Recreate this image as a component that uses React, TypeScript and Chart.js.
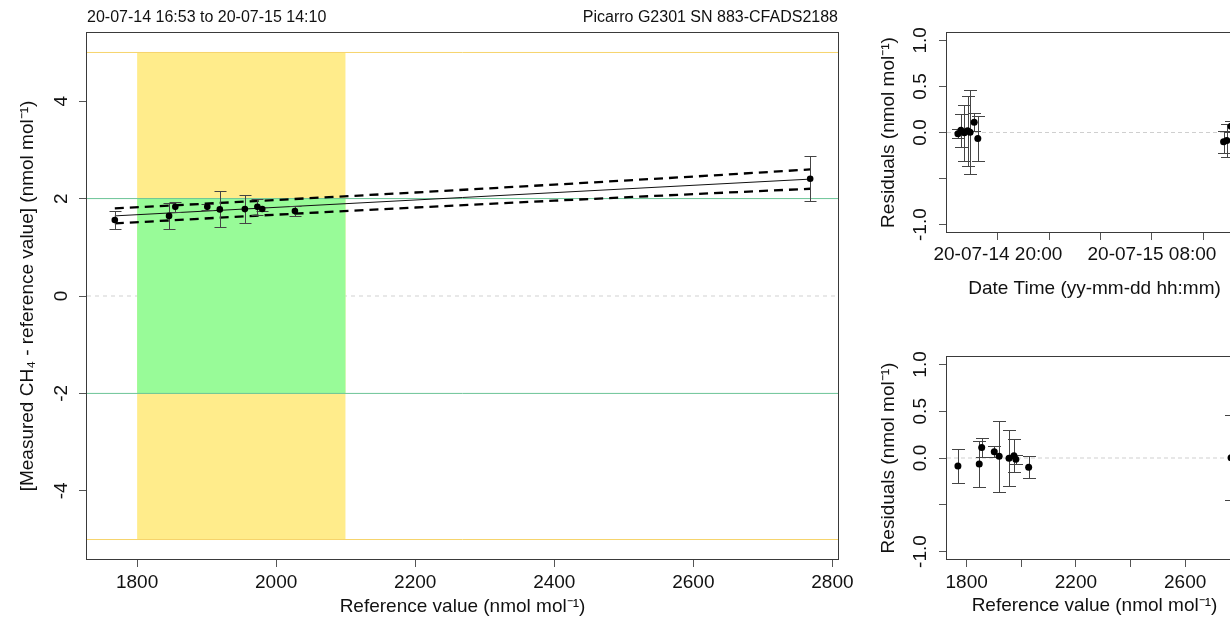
import React, { useEffect, useRef } from 'react';
import { Chart, registerables } from 'chart.js';

Chart.register(...registerables);

const FONT = "'Liberation Sans', Arial, Helvetica, sans-serif";
Chart.defaults.font.family = FONT;
Chart.defaults.color = '#111';

// ---------------- data ----------------
const referenceValues = [1768, 1846, 1855, 1901, 1919, 1955, 1973, 1980, 2027, 2768];
const measuredMinusRef = [1.56, 1.645, 1.83, 1.83, 1.778, 1.784, 1.83, 1.786, 1.743, 2.406];
const diffUncertainty = [0.18, 0.26, 0.1, 0.06, 0.37, 0.29, 0.17, 0.05, 0.11, 0.46];
const residuals = [-0.086, -0.065, 0.111, 0.068, 0.018, -0.004, 0.025, -0.014, -0.1, 0.004];
const residualUncertainty = [0.177, 0.245, 0.1, 0.06, 0.378, 0.3, 0.177, 0.05, 0.118, 0.455];
// hours since 2020-07-14 00:00
const measurementHours = [37.833, 18.433, 18.15, 38.167, 17.633, 17.383, 17.117, 16.883, 37.583, 17.833];

const fitX = [1768, 2768];
const fitY = [1.645, 2.4];
const bandX = [1768, 1970, 2200, 2400, 2600, 2768];
const bandUpper = [1.8, 1.948, 2.125, 2.287, 2.452, 2.598];
const bandLower = [1.49, 1.648, 1.817, 1.957, 2.092, 2.202];

const refTicks = [1800, 2000, 2200, 2400, 2600, 2800];
const refTickLabels = ['1800', '2000', '2200', '2400', '2600', '2800'];
const refTickLabelsSmall = ['1800', '', '2200', '', '2600', ''];
const diffTicks = [-4, -2, 0, 2, 4];
const diffTickLabels = ['-4', '-2', '0', '2', '4'];
const residTicks = [-1, -0.5, 0, 0.5, 1];
const residTickLabels = ['-1.0', '', '0.0', '0.5', '1.0'];
const timeTicks = [20, 24, 28, 32, 36];
const timeTickLabels = ['20-07-14 20:00', '', '', '20-07-15 08:00', ''];

const refRange = [1728, 2808];
const diffRange = [-5.4, 5.4];
const residRange = [-1.08, 1.08];
const timeRange = [16.032, 39.018];

const outerTolerance = [-5, 5];
const innerTolerance = [-2, 2];
const targetRange = [1800, 2100];

const headerLeft = '20-07-14 16:53 to 20-07-15 14:10';
const headerRight = 'Picarro G2301 SN 883-CFADS2188';
const mainXTitle = 'Reference value (nmol mol\u207B\u00B9)';
const mainYTitle = '[Measured CH\u2084 - reference value] (nmol mol\u207B\u00B9)';
const residYTitle = 'Residuals (nmol mol\u207B\u00B9)';
const timeXTitle = 'Date Time (yy-mm-dd hh:mm)';

// ---------------- helpers ----------------
const pts = (xs: number[], ys: number[]) => xs.map((x, i) => ({ x, y: ys[i] }));

type FrameCfg = {
  yTicks: number[];
  yLabels: string[];
  yLabelOffset: number;
  fontSize: number;
  errX: number[];
  errY: number[];
  errU: number[];
  cap: number;
  header?: boolean;
};

function makeFramePlugin(cfg: FrameCfg) {
  return {
    id: 'rframe',
    beforeDatasetDraw(chart: any, args: any) {
      if (args.index !== 0) return;
      const { ctx, chartArea: a, scales } = chart;
      ctx.save();
      ctx.beginPath();
      ctx.rect(a.left, a.top, a.right - a.left, a.bottom - a.top);
      ctx.clip();
      ctx.strokeStyle = '#444';
      ctx.lineWidth = 1;
      cfg.errX.forEach((xv, i) => {
        const px = Math.round(scales.x.getPixelForValue(xv)) + 0.5;
        const y1 = Math.round(scales.y.getPixelForValue(cfg.errY[i] - cfg.errU[i])) + 0.5;
        const y2 = Math.round(scales.y.getPixelForValue(cfg.errY[i] + cfg.errU[i])) + 0.5;
        ctx.beginPath();
        ctx.moveTo(px, y1);
        ctx.lineTo(px, y2);
        ctx.moveTo(px - cfg.cap, y1);
        ctx.lineTo(px + cfg.cap, y1);
        ctx.moveTo(px - cfg.cap, y2);
        ctx.lineTo(px + cfg.cap, y2);
        ctx.stroke();
      });
      ctx.restore();
    },
    afterDatasetsDraw(chart: any) {
      const { ctx, chartArea: a, scales } = chart;
      ctx.save();
      ctx.strokeStyle = '#3a3a3a';
      ctx.lineWidth = 1;
      const L = Math.round(a.left), T = Math.round(a.top), R = Math.round(a.right), B = Math.round(a.bottom);
      ctx.strokeRect(L - 0.5, T - 0.5, R - L + 1, B - T + 1);
      ctx.fillStyle = '#111';
      ctx.font = `${cfg.fontSize}px ${FONT}`;
      ctx.textAlign = 'center';
      ctx.textBaseline = 'middle';
      cfg.yTicks.forEach((v, i) => {
        const lbl = cfg.yLabels[i];
        if (!lbl) return;
        const py = scales.y.getPixelForValue(v);
        ctx.save();
        ctx.translate(a.left - cfg.yLabelOffset, py);
        ctx.rotate(-Math.PI / 2);
        ctx.fillText(lbl, 0, 0);
        ctx.restore();
      });
      if (cfg.header) {
        ctx.font = `16px ${FONT}`;
        ctx.textBaseline = 'middle';
        ctx.textAlign = 'left';
        ctx.fillText(headerLeft, L, 18);
        ctx.textAlign = 'right';
        ctx.fillText(headerRight, R, 18);
      }
      ctx.restore();
    },
  };
}

type AxisCfg = {
  xRange: number[];
  xTicks: number[];
  xLabels: string[];
  xTitle: string;
  xTitlePad: number;
  xLabelPad: number;
  xHeight: number;
  yRange: number[];
  yTicks: number[];
  yTitle: string;
  yTitlePad: number;
  yWidth: number;
  fontSize: number;
  padTop: number;
  padRight: number;
};

function makeOptions(c: AxisCfg): any {
  return {
    animation: false,
    responsive: false,
    events: [],
    layout: { padding: { top: c.padTop, right: c.padRight, left: 0, bottom: 0 } },
    plugins: { legend: { display: false }, tooltip: { enabled: false } },
    scales: {
      x: {
        type: 'linear',
        position: 'bottom',
        min: c.xRange[0],
        max: c.xRange[1],
        afterBuildTicks: (s: any) => {
          s.ticks = c.xTicks.map((v) => ({ value: v }));
        },
        afterFit: (s: any) => {
          s.height = c.xHeight;
        },
        ticks: {
          autoSkip: false,
          maxRotation: 0,
          minRotation: 0,
          padding: c.xLabelPad,
          color: '#111',
          font: { size: c.fontSize, family: FONT },
          callback: (_v: any, i: number) => c.xLabels[i],
        },
        grid: { display: true, drawOnChartArea: false, drawTicks: true, tickLength: 8, color: '#555', lineWidth: 1 },
        border: { display: false },
        title: {
          display: true,
          text: c.xTitle,
          color: '#111',
          font: { size: c.fontSize, family: FONT },
          padding: { top: 0, bottom: c.xTitlePad },
        },
      },
      y: {
        type: 'linear',
        position: 'left',
        min: c.yRange[0],
        max: c.yRange[1],
        afterBuildTicks: (s: any) => {
          s.ticks = c.yTicks.map((v) => ({ value: v }));
        },
        afterFit: (s: any) => {
          s.width = c.yWidth;
        },
        ticks: { display: false },
        grid: { display: true, drawOnChartArea: false, drawTicks: true, tickLength: 8, color: '#555', lineWidth: 1 },
        border: { display: false },
        title: {
          display: true,
          text: c.yTitle,
          color: '#111',
          font: { size: c.fontSize, family: FONT },
          padding: { top: c.yTitlePad, bottom: 0 },
        },
      },
    },
  };
}

const flatLine = (xs: number[], y: number, color: string, order: number, dash: number[] = [], width = 1) => ({
  type: 'line',
  data: pts(xs, [y, y]),
  borderColor: color,
  borderWidth: width,
  borderDash: dash,
  pointRadius: 0,
  showLine: true,
  fill: false,
  order,
});

function mainConfig(): any {
  const GREEN_LINE = '#6cc497';
  const GOLD_LINE = '#f6d46c';
  return {
    type: 'scatter',
    data: {
      datasets: [
        {
          type: 'scatter',
          data: pts(referenceValues, measuredMinusRef),
          pointRadius: 3.3,
          backgroundColor: '#000',
          borderColor: '#000',
          borderWidth: 0,
          order: 0,
        },
        { type: 'line', data: pts(fitX, fitY), borderColor: '#111', borderWidth: 1, pointRadius: 0, showLine: true, fill: false, order: 1 },
        { type: 'line', data: pts(bandX, bandUpper), borderColor: '#000', borderWidth: 2.3, borderDash: [9, 6], pointRadius: 0, showLine: true, fill: false, order: 1 },
        { type: 'line', data: pts(bandX, bandLower), borderColor: '#000', borderWidth: 2.3, borderDash: [9, 6], pointRadius: 0, showLine: true, fill: false, order: 1 },
        flatLine(refRange, innerTolerance[1], GREEN_LINE, 2),
        flatLine(refRange, innerTolerance[0], GREEN_LINE, 2),
        flatLine(refRange, outerTolerance[1], GOLD_LINE, 2),
        flatLine(refRange, outerTolerance[0], GOLD_LINE, 2),
        {
          type: 'line',
          data: pts(targetRange, [innerTolerance[1], innerTolerance[1]]),
          fill: { value: innerTolerance[0] },
          backgroundColor: '#98FB98',
          borderColor: 'rgba(0,0,0,0)',
          borderWidth: 0,
          pointRadius: 0,
          showLine: true,
          order: 3,
        },
        {
          type: 'line',
          data: pts(targetRange, [outerTolerance[1], outerTolerance[1]]),
          fill: { value: outerTolerance[0] },
          backgroundColor: '#FFEC8B',
          borderColor: 'rgba(0,0,0,0)',
          borderWidth: 0,
          pointRadius: 0,
          showLine: true,
          order: 4,
        },
        flatLine(refRange, 0, '#d2d2d2', 5, [4, 4]),
      ],
    },
    options: makeOptions({
      xRange: refRange,
      xTicks: refTicks,
      xLabels: refTickLabels,
      xTitle: mainXTitle,
      xTitlePad: 1,
      xLabelPad: 4,
      xHeight: 60,
      yRange: diffRange,
      yTicks: diffTicks,
      yTitle: mainYTitle,
      yTitlePad: 16,
      yWidth: 87,
      fontSize: 19,
      padTop: 33,
      padRight: 42,
    }),
    plugins: [
      makeFramePlugin({
        yTicks: diffTicks,
        yLabels: diffTickLabels,
        yLabelOffset: 25,
        fontSize: 19,
        errX: referenceValues,
        errY: measuredMinusRef,
        errU: diffUncertainty,
        cap: 6,
        header: true,
      }),
    ],
  };
}

function residualConfig(kind: 'time' | 'ref'): any {
  const xs = kind === 'time' ? measurementHours : referenceValues;
  const range = kind === 'time' ? timeRange : refRange;
  return {
    type: 'scatter',
    data: {
      datasets: [
        {
          type: 'scatter',
          data: pts(xs, residuals),
          pointRadius: 3.5,
          backgroundColor: '#000',
          borderColor: '#000',
          borderWidth: 0,
          order: 0,
        },
        flatLine(range, 0, '#cfcfcf', 5, [4, 3]),
      ],
    },
    options: makeOptions({
      xRange: range,
      xTicks: kind === 'time' ? timeTicks : refTicks,
      xLabels: kind === 'time' ? timeTickLabels : refTickLabelsSmall,
      xTitle: kind === 'time' ? timeXTitle : mainXTitle,
      xTitlePad: kind === 'time' ? 10 : 2,
      xLabelPad: kind === 'time' ? 3 : 4,
      xHeight: kind === 'time' ? 78 : 60,
      yRange: residRange,
      yTicks: residTicks,
      yTitle: residYTitle,
      yTitlePad: 27,
      yWidth: 97,
      fontSize: 19,
      padTop: kind === 'time' ? 33 : 37,
      padRight: 8,
    }),
    plugins: [
      makeFramePlugin({
        yTicks: residTicks,
        yLabels: residTickLabels,
        yLabelOffset: 26,
        fontSize: 19,
        errX: xs,
        errY: residuals,
        errU: residualUncertainty,
        cap: 6.5,
      }),
    ],
  };
}

export default function App() {
  const mainRef = useRef<HTMLCanvasElement>(null);
  const timeRef = useRef<HTMLCanvasElement>(null);
  const refResRef = useRef<HTMLCanvasElement>(null);

  useEffect(() => {
    const charts: Chart[] = [];
    if (mainRef.current) charts.push(new Chart(mainRef.current, mainConfig()));
    if (timeRef.current) charts.push(new Chart(timeRef.current, residualConfig('time')));
    if (refResRef.current) charts.push(new Chart(refResRef.current, residualConfig('ref')));
    return () => charts.forEach((c) => c.destroy());
  }, []);

  return (
    <div
      style={{
        position: 'fixed',
        left: 0,
        top: 0,
        width: 1230,
        height: 619,
        overflow: 'hidden',
        background: '#fff',
      }}
    >
      <canvas ref={mainRef} width={880} height={619} style={{ position: 'absolute', left: 0, top: 0 }} />
      <canvas ref={timeRef} width={400} height={310} style={{ position: 'absolute', left: 850, top: 0 }} />
      <canvas ref={refResRef} width={400} height={299} style={{ position: 'absolute', left: 850, top: 320 }} />
    </div>
  );
}
